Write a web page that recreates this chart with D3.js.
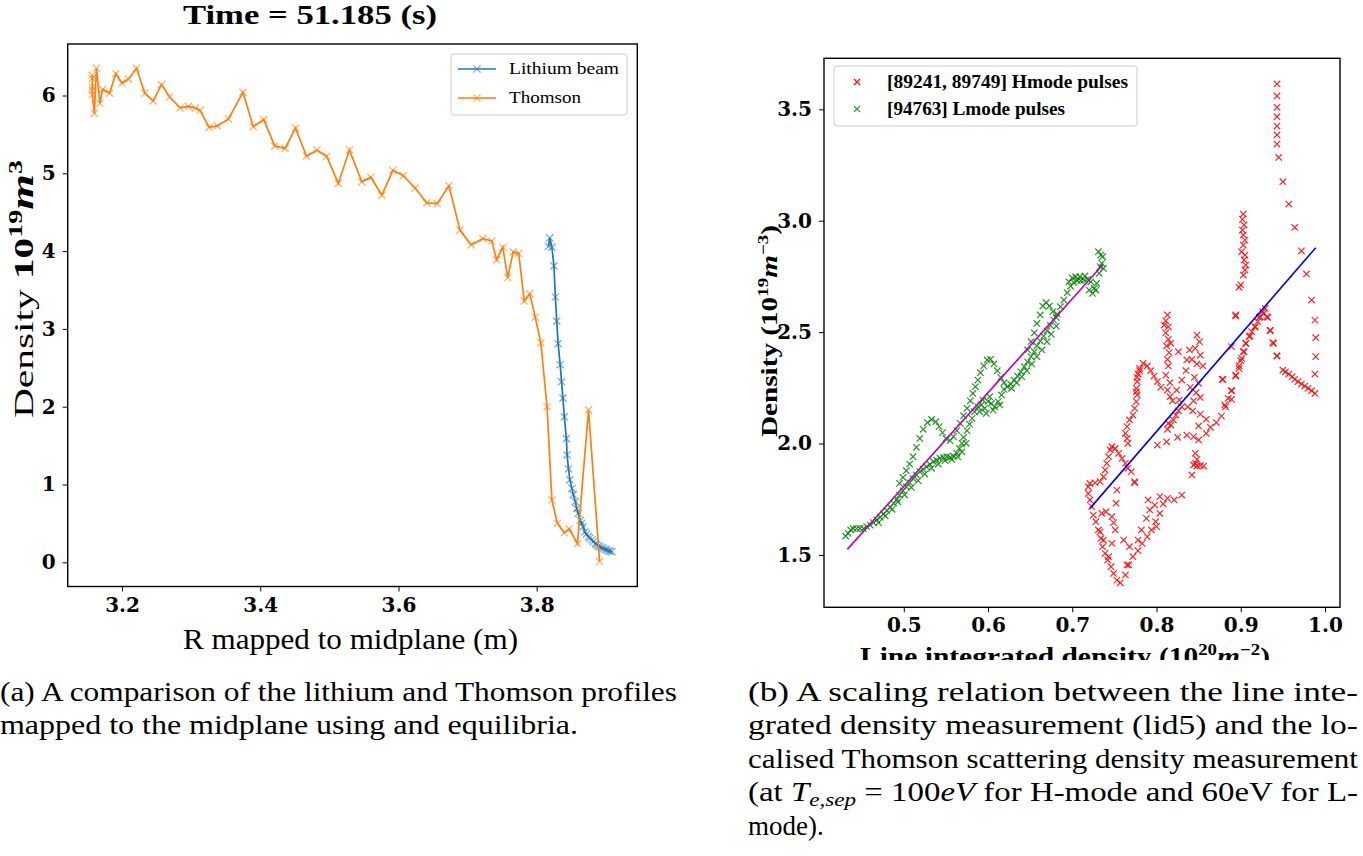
<!DOCTYPE html>
<html>
<head>
<meta charset="utf-8">
<script src="https://cdn.jsdelivr.net/npm/d3@7"></script>
<style>
body { margin: 0; background: #fff; }
svg text { font-family: "Liberation Serif", "Times New Roman", Times, "DejaVu Serif", serif; fill: #000; }
.tick text { font-family: "DejaVu Serif", serif; font-weight: bold; font-size: 20px; }
</style>
</head>
<body>
<svg id="fig" width="1363" height="856"></svg>
<script>
// ---- data ----
// (a) profiles: [R (m), density (1e19 m^-3)]
var lithiumPoints = [
  [3.817, 4.06], [3.819, 4.17], [3.822, 4.05], [3.825, 3.81], [3.827, 3.41], [3.829, 3.10],
  [3.831, 2.81], [3.834, 2.54], [3.836, 2.32], [3.838, 2.11], [3.840, 1.87], [3.843, 1.59],
  [3.844, 1.38], [3.846, 1.20], [3.848, 1.06], [3.851, 0.95], [3.853, 0.87], [3.856, 0.78],
  [3.858, 0.69], [3.860, 0.63], [3.863, 0.54], [3.865, 0.50], [3.867, 0.46], [3.870, 0.39],
  [3.872, 0.36], [3.875, 0.33], [3.877, 0.31], [3.880, 0.29], [3.882, 0.265], [3.885, 0.24],
  [3.887, 0.23], [3.889, 0.21], [3.891, 0.20], [3.894, 0.19], [3.896, 0.178], [3.899, 0.167],
  [3.901, 0.158], [3.904, 0.149], [3.906, 0.142], [3.909, 0.136]
];
var thomsonPoints = [
  [3.157, 6.26], [3.157, 6.22], [3.157, 6.11], [3.157, 6.07], [3.157, 6.01], [3.160, 5.77],
  [3.163, 6.35], [3.168, 5.90], [3.172, 6.08], [3.182, 6.03], [3.191, 6.28], [3.200, 6.16],
  [3.209, 6.21], [3.221, 6.35], [3.233, 6.03], [3.245, 5.93], [3.257, 6.14], [3.269, 5.98],
  [3.284, 5.84], [3.296, 5.86], [3.306, 5.84], [3.313, 5.81], [3.326, 5.59], [3.338, 5.61],
  [3.354, 5.70], [3.375, 6.04], [3.390, 5.60], [3.405, 5.69], [3.421, 5.35], [3.436, 5.32],
  [3.451, 5.58], [3.467, 5.22], [3.482, 5.30], [3.496, 5.22], [3.513, 4.87], [3.529, 5.30],
  [3.547, 4.89], [3.560, 4.95], [3.576, 4.72], [3.592, 5.04], [3.607, 4.97], [3.624, 4.81],
  [3.641, 4.62], [3.656, 4.61], [3.673, 4.84], [3.689, 4.27], [3.705, 4.08], [3.722, 4.16],
  [3.735, 4.13], [3.742, 3.89], [3.751, 4.05], [3.758, 3.66], [3.766, 3.99], [3.774, 3.97],
  [3.782, 3.36], [3.790, 3.45], [3.798, 3.15], [3.806, 2.82], [3.815, 2.00], [3.822, 0.80],
  [3.830, 0.50], [3.840, 0.38], [3.847, 0.43], [3.859, 0.24], [3.875, 1.96], [3.891, 0.01]
];
var leftXTicks = [3.2, 3.4, 3.6, 3.8];
var leftYTicks = [0, 1, 2, 3, 4, 5, 6];

// (b) scaling: [line integrated density (1e20 m^-2), density (1e19 m^-3)]
var hmodePoints = [
  [0.719, 1.806], [0.721, 1.821], [0.727, 1.824], [0.733, 1.829], [0.737, 1.851], [0.739, 1.881],
  [0.741, 1.911], [0.743, 1.941], [0.745, 1.971], [0.747, 1.986], [0.751, 1.978], [0.755, 1.956],
  [0.759, 1.933], [0.763, 1.911], [0.766, 1.889], [0.770, 1.874], [0.719, 1.776], [0.721, 1.747],
  [0.723, 1.717], [0.725, 1.679], [0.728, 1.649], [0.731, 1.612], [0.734, 1.574], [0.736, 1.537],
  [0.739, 1.507], [0.742, 1.477], [0.746, 1.447], [0.749, 1.417], [0.753, 1.387], [0.757, 1.375],
  [0.763, 1.410], [0.767, 1.455], [0.772, 1.492], [0.778, 1.519], [0.783, 1.552], [0.789, 1.582],
  [0.794, 1.612], [0.799, 1.649], [0.804, 1.687], [0.808, 1.729], [0.813, 1.754], [0.821, 1.747],
  [0.830, 1.769], [0.735, 1.687], [0.740, 1.694], [0.747, 1.672], [0.749, 1.645], [0.751, 1.612],
  [0.747, 1.552], [0.743, 1.492], [0.761, 1.567], [0.768, 1.537], [0.778, 1.567], [0.782, 1.612],
  [0.788, 1.664], [0.800, 1.627], [0.792, 1.702], [0.798, 1.724], [0.790, 1.747], [0.804, 1.762],
  [0.753, 1.791], [0.752, 1.732], [0.774, 1.829], [0.765, 1.455], [0.733, 1.604], [0.737, 1.567],
  [0.766, 2.001], [0.765, 2.023], [0.763, 2.046], [0.765, 2.076], [0.768, 2.106], [0.772, 2.128],
  [0.774, 2.158], [0.776, 2.188], [0.777, 2.218], [0.776, 2.248], [0.777, 2.278], [0.778, 2.312],
  [0.780, 2.337], [0.784, 2.360], [0.789, 2.348], [0.793, 2.327], [0.797, 2.303], [0.801, 2.278],
  [0.805, 2.252], [0.777, 2.297], [0.776, 2.233], [0.780, 2.327],
  [0.813, 2.577], [0.811, 2.551], [0.814, 2.524], [0.811, 2.497], [0.814, 2.468], [0.812, 2.438],
  [0.815, 2.408], [0.813, 2.378], [0.814, 2.348], [0.811, 2.307], [0.816, 2.273], [0.813, 2.240],
  [0.816, 2.210], [0.819, 2.192], [0.809, 2.532], [0.817, 2.450],
  [0.848, 2.487], [0.851, 2.457], [0.846, 2.427], [0.839, 2.420], [0.852, 2.397], [0.842, 2.378],
  [0.848, 2.357], [0.855, 2.348], [0.835, 2.327], [0.845, 2.297], [0.850, 2.270], [0.840, 2.252],
  [0.847, 2.228], [0.852, 2.207], [0.844, 2.192], [0.837, 2.165], [0.843, 2.147], [0.852, 2.132],
  [0.859, 2.109], [0.850, 2.079], [0.826, 2.412], [0.836, 2.375], [0.830, 2.285], [0.824, 2.240],
  [0.827, 2.195], [0.813, 2.064], [0.817, 2.083], [0.820, 2.106], [0.823, 2.128], [0.826, 2.147],
  [0.830, 2.165], [0.814, 2.091],
  [0.846, 1.956], [0.848, 1.929], [0.844, 1.904], [0.848, 1.899], [0.852, 1.902], [0.856, 1.899],
  [0.846, 1.911], [0.842, 1.859],
  [0.801, 1.993], [0.812, 2.008], [0.825, 2.028], [0.836, 2.038], [0.844, 2.031], [0.850, 2.016],
  [0.859, 2.046], [0.864, 2.073], [0.871, 2.094], [0.877, 2.123], [0.882, 2.165], [0.889, 2.198],
  [0.878, 2.288], [0.889, 2.237], [0.894, 2.303], [0.898, 2.337], [0.900, 2.372], [0.903, 2.412],
  [0.906, 2.450], [0.911, 2.483], [0.917, 2.524], [0.922, 2.566], [0.926, 2.592], [0.931, 2.569],
  [0.894, 2.577], [0.935, 2.506], [0.938, 2.453], [0.943, 2.393], [0.774, 1.824],
  [0.943, 3.614], [0.943, 3.560], [0.943, 3.509], [0.943, 3.467], [0.943, 3.425], [0.943, 3.385],
  [0.943, 3.344], [0.945, 3.284], [0.950, 3.175], [0.957, 3.075], [0.964, 2.970], [0.972, 2.865],
  [0.978, 2.761], [0.984, 2.644], [0.988, 2.554], [0.989, 2.475], [0.989, 2.390], [0.988, 2.312],
  [0.988, 2.225], [0.984, 2.237], [0.980, 2.248], [0.976, 2.258], [0.972, 2.267], [0.968, 2.278],
  [0.964, 2.288], [0.961, 2.300], [0.957, 2.312], [0.953, 2.322], [0.950, 2.330],
  [0.903, 3.030], [0.902, 3.006], [0.904, 2.981], [0.902, 2.958], [0.903, 2.936], [0.905, 2.913],
  [0.903, 2.891], [0.901, 2.861], [0.905, 2.846], [0.904, 2.824], [0.906, 2.801], [0.905, 2.779],
  [0.903, 2.756], [0.900, 2.712], [0.898, 2.701],
  [0.894, 2.572], [0.929, 2.607], [0.927, 2.584], [0.923, 2.569], [0.932, 2.566], [0.920, 2.547],
  [0.917, 2.524], [0.913, 2.502], [0.910, 2.480], [0.906, 2.450], [0.904, 2.412], [0.901, 2.382],
  [0.898, 2.348], [0.894, 2.307], [0.889, 2.435], [0.935, 2.509], [0.939, 2.450], [0.943, 2.393],
  [0.889, 2.237], [0.885, 2.203], [0.879, 2.288], [0.881, 2.173]
];
var lmodePoints = [
  [0.431, 1.585], [0.434, 1.597], [0.437, 1.612], [0.440, 1.619], [0.444, 1.618], [0.448, 1.619],
  [0.452, 1.618], [0.456, 1.627], [0.460, 1.634], [0.464, 1.645], [0.468, 1.657], [0.472, 1.669],
  [0.476, 1.684], [0.480, 1.699], [0.484, 1.714], [0.488, 1.732], [0.492, 1.749], [0.495, 1.769],
  [0.499, 1.788], [0.503, 1.806], [0.507, 1.824], [0.511, 1.842], [0.515, 1.859], [0.519, 1.874],
  [0.523, 1.884], [0.527, 1.896], [0.531, 1.907], [0.535, 1.919], [0.539, 1.926], [0.543, 1.934],
  [0.547, 1.938], [0.551, 1.941], [0.555, 1.938], [0.559, 1.944], [0.563, 1.956], [0.566, 1.978],
  [0.569, 2.001], [0.571, 2.028], [0.575, 2.058], [0.578, 2.087], [0.581, 2.113], [0.584, 2.143],
  [0.588, 2.165], [0.592, 2.173], [0.596, 2.158], [0.600, 2.188], [0.604, 2.180], [0.608, 2.165],
  [0.612, 2.188], [0.616, 2.218], [0.619, 2.243], [0.623, 2.255], [0.627, 2.267], [0.631, 2.285],
  [0.635, 2.303], [0.639, 2.322], [0.643, 2.345], [0.647, 2.367], [0.651, 2.390], [0.655, 2.412],
  [0.658, 2.438], [0.662, 2.460], [0.666, 2.482], [0.670, 2.506], [0.674, 2.530], [0.678, 2.554],
  [0.682, 2.581], [0.686, 2.614], [0.690, 2.644], [0.694, 2.677], [0.698, 2.707], [0.702, 2.722],
  [0.706, 2.731], [0.710, 2.731], [0.714, 2.734], [0.718, 2.737], [0.722, 2.726], [0.726, 2.696],
  [0.729, 2.719], [0.732, 2.764], [0.735, 2.809], [0.734, 2.846], [0.731, 2.861], [0.736, 2.839],
  [0.737, 2.786], [0.733, 2.794],
  [0.495, 1.821], [0.499, 1.848], [0.503, 1.878], [0.507, 1.908], [0.511, 1.941], [0.515, 1.983],
  [0.519, 2.023], [0.523, 2.064], [0.528, 2.094], [0.533, 2.108], [0.538, 2.098], [0.542, 2.076],
  [0.546, 2.049], [0.550, 2.023], [0.555, 2.013], [0.559, 2.031], [0.563, 2.058], [0.567, 2.091],
  [0.571, 2.125], [0.575, 2.158], [0.579, 2.192], [0.582, 2.225], [0.585, 2.255], [0.588, 2.285],
  [0.591, 2.318], [0.595, 2.348], [0.599, 2.375], [0.603, 2.378], [0.607, 2.357], [0.611, 2.327],
  [0.615, 2.297], [0.619, 2.273],
  [0.647, 2.420], [0.651, 2.457], [0.655, 2.497], [0.658, 2.539], [0.662, 2.577], [0.665, 2.617],
  [0.669, 2.632], [0.673, 2.617], [0.677, 2.592], [0.681, 2.566],
  [0.628, 2.248], [0.634, 2.273], [0.640, 2.300], [0.646, 2.327], [0.652, 2.357], [0.658, 2.390],
  [0.664, 2.420], [0.670, 2.457], [0.675, 2.491], [0.681, 2.527],
  [0.696, 2.726], [0.700, 2.743], [0.704, 2.749], [0.709, 2.749], [0.715, 2.752], [0.720, 2.689],
  [0.724, 2.674], [0.728, 2.689],
  [0.470, 1.645], [0.478, 1.675], [0.486, 1.705], [0.493, 1.738], [0.501, 1.770], [0.509, 1.803],
  [0.517, 1.833], [0.525, 1.863], [0.533, 1.889], [0.541, 1.908], [0.549, 1.923], [0.557, 1.929],
  [0.564, 1.941], [0.569, 1.963], [0.574, 2.001],
  [0.590, 2.143], [0.598, 2.135], [0.606, 2.150], [0.614, 2.173], [0.594, 2.195], [0.602, 2.210]
];
// straight-line fits drawn in (b): end points
var hmodeFit = [[0.721, 1.709], [0.989, 2.879]];
var lmodeFit = [[0.433, 1.525], [0.736, 2.801]];
var rightXTicks = [0.5, 0.6, 0.7, 0.8, 0.9, 1.0];
var rightYTicks = [1.5, 2.0, 2.5, 3.0, 3.5];

var svg = d3.select("#fig");

function crossPath(s) {
  return "M" + (-s) + "," + (-s) + "L" + s + "," + s + "M" + (-s) + "," + s + "L" + s + "," + (-s);
}

// ================= panel (a) =================
var a = {left: 67.7, right: 637.3, top: 44, bottom: 586.5};
var xA = d3.scaleLinear().domain([3.1214, 3.9456]).range([a.left, a.right]);
var yA = d3.scaleLinear().domain([-0.311, 6.662]).range([a.bottom, a.top]);

svg.append("g")
  .attr("transform", "translate(0," + a.bottom + ")")
  .call(d3.axisBottom(xA).tickValues(leftXTicks).tickFormat(d3.format(".1f")).tickSizeOuter(0).tickSize(5).tickPadding(6))
  .call(g => g.select(".domain").remove());
svg.append("g")
  .attr("transform", "translate(" + a.left + ",0)")
  .call(d3.axisLeft(yA).tickValues(leftYTicks).tickFormat(d3.format("d")).tickSizeOuter(0).tickSize(5).tickPadding(7))
  .call(g => g.select(".domain").remove());

var lineA = d3.line().x(d => xA(d[0])).y(d => yA(d[1]));

function drawProfile(points, color) {
  svg.append("path").datum(points)
    .attr("d", lineA).attr("fill", "none")
    .attr("stroke", color).attr("stroke-width", 1.7);
  svg.append("g").selectAll("path").data(points).enter().append("path")
    .attr("transform", d => "translate(" + xA(d[0]) + "," + yA(d[1]) + ")")
    .attr("d", crossPath(3.6))
    .attr("stroke", color).attr("stroke-width", 1.3).attr("stroke-opacity", 0.6).attr("fill", "none");
}
drawProfile(lithiumPoints, "#1f77b4");
drawProfile(thomsonPoints, "#ff7f0e");

svg.append("rect")
  .attr("x", a.left).attr("y", a.top)
  .attr("width", a.right - a.left).attr("height", a.bottom - a.top)
  .attr("fill", "none").attr("stroke", "#000").attr("stroke-width", 1.4);

// legend (a)
var legA = svg.append("g");
legA.append("rect").attr("x", 451).attr("y", 54).attr("width", 176).attr("height", 61)
  .attr("rx", 3).attr("fill", "#fff").attr("fill-opacity", 0.8).attr("stroke", "#ccc");
[["Lithium beam", "#1f77b4", 69, 110], ["Thomson", "#ff7f0e", 98, 72]].forEach(function(e) {
  legA.append("line").attr("x1", 458).attr("x2", 496).attr("y1", e[2]).attr("y2", e[2])
    .attr("stroke", e[1]).attr("stroke-width", 1.7);
  legA.append("path").attr("transform", "translate(477," + e[2] + ")").attr("d", crossPath(3.6))
    .attr("stroke", e[1]).attr("stroke-width", 1.3).attr("stroke-opacity", 0.6).attr("fill", "none");
  legA.append("text").attr("x", 509).attr("y", e[2] + 5).attr("font-size", "17px")
    .attr("textLength", e[3]).attr("lengthAdjust", "spacingAndGlyphs").text(e[0]);
});

svg.append("text").attr("x", 183).attr("y", 24)
  .attr("font-size", "27px").attr("font-weight", "bold")
  .attr("textLength", 254).attr("lengthAdjust", "spacingAndGlyphs").text("Time = 51.185 (s)");

svg.append("text").attr("x", 183).attr("y", 649)
  .attr("font-size", "29px").attr("textLength", 335).attr("lengthAdjust", "spacingAndGlyphs")
  .text("R mapped to midplane (m)");

var ylabA = svg.append("text").attr("transform", "translate(33,418) rotate(-90)")
  .attr("font-size", "28px").attr("textLength", 258).attr("lengthAdjust", "spacingAndGlyphs");
ylabA.append("tspan").text("Density ");
ylabA.append("tspan").attr("font-weight", "bold").text("10");
ylabA.append("tspan").attr("font-weight", "bold").attr("font-size", "19px").attr("dy", -11).text("19");
ylabA.append("tspan").attr("font-weight", "bold").attr("font-style", "italic").attr("font-size", "31px").attr("dy", 11).text("m");
ylabA.append("tspan").attr("font-weight", "bold").attr("font-size", "19px").attr("dy", -11).text("3");

// ================= panel (b) =================
var b = {left: 824, right: 1340, top: 58.3, bottom: 607.3};
var xB = d3.scaleLinear().domain([0.4053, 1.0178]).range([b.left, b.right]);
var yB = d3.scaleLinear().domain([1.265, 3.729]).range([b.bottom, b.top]);

svg.append("g")
  .attr("transform", "translate(0," + b.bottom + ")")
  .call(d3.axisBottom(xB).tickValues(rightXTicks).tickFormat(d3.format(".1f")).tickSizeOuter(0).tickSize(5).tickPadding(6))
  .call(g => g.select(".domain").remove());
svg.append("g")
  .attr("transform", "translate(" + b.left + ",0)")
  .call(d3.axisLeft(yB).tickValues(rightYTicks).tickFormat(d3.format(".1f")).tickSizeOuter(0).tickSize(5).tickPadding(7))
  .call(g => g.select(".domain").remove());

function drawScatter(points, color) {
  svg.append("g").selectAll("path").data(points).enter().append("path")
    .attr("transform", d => "translate(" + xB(d[0]) + "," + yB(d[1]) + ")")
    .attr("d", crossPath(3.2))
    .attr("stroke", color).attr("stroke-width", 1.2).attr("stroke-opacity", 0.85).attr("fill", "none");
}
drawScatter(hmodePoints, "#ff0000");
drawScatter(lmodePoints, "#008000");

var lineB = d3.line().x(d => xB(d[0])).y(d => yB(d[1]));
svg.append("path").datum(lmodeFit).attr("d", lineB).attr("stroke", "#bf00bf").attr("stroke-width", 1.6).attr("fill", "none");
svg.append("path").datum(hmodeFit).attr("d", lineB).attr("stroke", "#0000ff").attr("stroke-width", 1.6).attr("fill", "none");

svg.append("rect")
  .attr("x", b.left).attr("y", b.top)
  .attr("width", b.right - b.left).attr("height", b.bottom - b.top)
  .attr("fill", "none").attr("stroke", "#000").attr("stroke-width", 1.4);

// legend (b)
var legB = svg.append("g");
legB.append("rect").attr("x", 834).attr("y", 66).attr("width", 303).attr("height", 60)
  .attr("rx", 3).attr("fill", "#fff").attr("fill-opacity", 0.8).attr("stroke", "#ccc");
[["[89241, 89749] Hmode pulses", "#ff0000", 82, 241], ["[94763] Lmode pulses", "#2ca02c", 109, 178]].forEach(function(e) {
  legB.append("path").attr("transform", "translate(857," + e[2] + ")").attr("d", crossPath(3))
    .attr("stroke", e[1]).attr("stroke-width", 1.2).attr("fill", "none");
  legB.append("text").attr("x", 887).attr("y", e[2] + 6).attr("font-size", "18px").attr("font-weight", "bold")
    .attr("textLength", e[3]).attr("lengthAdjust", "spacingAndGlyphs").text(e[0]);
});

var ylabB = svg.append("text").attr("transform", "translate(777,437) rotate(-90)")
  .attr("font-size", "23px").attr("font-weight", "bold")
  .attr("textLength", 212).attr("lengthAdjust", "spacingAndGlyphs");
ylabB.append("tspan").text("Density (10");
ylabB.append("tspan").attr("font-size", "15px").attr("dy", -9).text("19");
ylabB.append("tspan").attr("font-style", "italic").attr("dy", 9).text("m");
ylabB.append("tspan").attr("font-size", "15px").attr("dy", -9).text("\u22123");
ylabB.append("tspan").attr("dy", 9).text(")");

svg.append("clipPath").attr("id", "cutB").append("rect").attr("x", 800).attr("y", 630).attr("width", 560).attr("height", 30);
var xlabB = svg.append("text").attr("clip-path", "url(#cutB)").attr("x", 860).attr("y", 665)
  .attr("font-size", "25px").attr("font-weight", "bold")
  .attr("textLength", 410).attr("lengthAdjust", "spacingAndGlyphs");
xlabB.append("tspan").text("Line integrated density (10");
xlabB.append("tspan").attr("font-size", "16px").attr("dy", -10).text("20");
xlabB.append("tspan").attr("font-style", "italic").attr("dy", 10).text("m");
xlabB.append("tspan").attr("font-size", "16px").attr("dy", -10).text("\u22122");
xlabB.append("tspan").attr("dy", 10).text(")");

// ================= captions =================
var capSize = "27px";
function capLine(x, y, len, txt) {
  var t = svg.append("text").attr("x", x).attr("y", y).attr("font-size", capSize);
  if (len) t.attr("textLength", len).attr("lengthAdjust", "spacingAndGlyphs");
  if (txt) t.text(txt);
  return t;
}
capLine(0, 701, 677, "(a) A comparison of the lithium and Thomson profiles");
capLine(0, 734, 578, "mapped to the midplane using and equilibria.");

capLine(748, 701, 610, "(b) A scaling relation between the line inte-");
capLine(748, 734, 610, "grated density measurement (lid5) and the lo-");
capLine(748, 768, 610, "calised Thomson scattering density measurement");
var c4 = capLine(748, 801, 610, null);
c4.append("tspan").text("(at ");
c4.append("tspan").attr("font-style", "italic").text("T");
c4.append("tspan").attr("font-style", "italic").attr("font-size", "19px").attr("dy", 5).text("e,sep");
c4.append("tspan").attr("dy", -5).text(" = 100");
c4.append("tspan").attr("font-style", "italic").text("eV");
c4.append("tspan").text(" for H-mode and 60eV for L-");
capLine(748, 835, null, "mode).");
</script>
</body>
</html>
